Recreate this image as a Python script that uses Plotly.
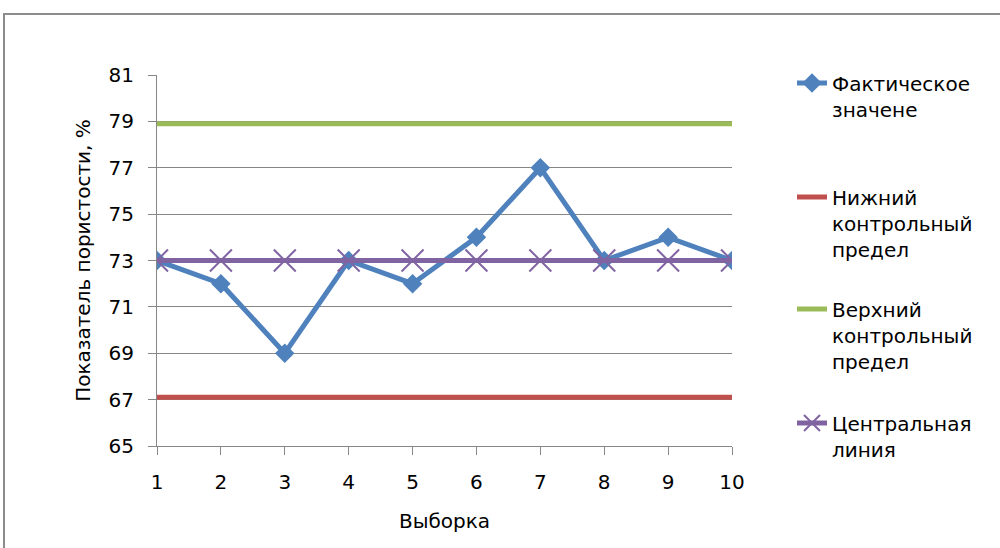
import plotly.graph_objects as go

samples = [1, 2, 3, 4, 5, 6, 7, 8, 9, 10]
actual = [73, 72, 69, 73, 72, 74, 77, 73, 74, 73]
lcl_value = 67.1
ucl_value = 78.9
cl_value = 73
lcl = [lcl_value] * len(samples)
ucl = [ucl_value] * len(samples)
cl = [cl_value] * len(samples)

names = ["Фактическое<br>значене", "Нижний<br>контрольный<br>предел",
         "Верхний<br>контрольный<br>предел", "Центральная<br>линия"]
y_ticks = [65, 67, 69, 71, 73, 75, 77, 79, 81]

BLUE = "#4F81BD"
RED = "#C0504D"
GREEN = "#9BBB59"
PURPLE = "#8064A2"
GRID = "#868686"
FONT = "DejaVu Sans"

W, H = 1000, 548
L, R, T, B = 157, 268, 75, 102
PW = W - L - R
PH = H - T - B


def px_x(p):
    return (p - L) / PW


def px_y(p):
    return (H - B - p) / PH


fig = go.Figure()
fig.add_trace(go.Scatter(x=samples, y=actual, name=names[0], mode="lines+markers",
                         line=dict(color=BLUE, width=5),
                         marker=dict(symbol="diamond", size=15, color=BLUE),
                         legend="legend"))
fig.add_trace(go.Scatter(x=samples, y=lcl, name=names[1], mode="lines",
                         line=dict(color=RED, width=5), legend="legend2"))
fig.add_trace(go.Scatter(x=samples, y=ucl, name=names[2], mode="lines",
                         line=dict(color=GREEN, width=5), legend="legend3"))
fig.add_trace(go.Scatter(x=samples, y=cl, name=names[3], mode="lines+markers",
                         line=dict(color=PURPLE, width=5),
                         marker=dict(symbol="x-thin", size=22,
                                     line=dict(color=PURPLE, width=2), color=PURPLE),
                         legend="legend4"))

legend_common = dict(xanchor="left", yanchor="middle", valign="top",
                     font=dict(family=FONT, size=20, color="black"),
                     bgcolor="rgba(0,0,0,0)", borderwidth=0)
# pixel row of the first text line of each legend entry, and its line count
legend_rows = [83, 197, 309, 423]
legend_lines = [n.count("<br>") + 1 for n in names]
lx = px_x(792)
leg = [dict(x=lx, y=px_y(r + 13 * (n - 1)), **legend_common)
       for r, n in zip(legend_rows, legend_lines)]

fig.update_layout(
    width=W, height=H,
    margin=dict(l=L, r=R, t=T, b=B),
    paper_bgcolor="white", plot_bgcolor="white",
    font=dict(family=FONT, size=20, color="black"),
    showlegend=True,
    legend=leg[0], legend2=leg[1], legend3=leg[2], legend4=leg[3],
    xaxis=dict(range=[1, 10], tickmode="array", tickvals=samples,
               ticktext=[str(s) for s in samples],
               showgrid=False, zeroline=False,
               showline=True, linecolor=GRID, linewidth=1,
               ticks="outside", ticklen=8, tickcolor=GRID, tickwidth=1,
               ticklabelstandoff=10,
               tickfont=dict(family=FONT, size=20, color="black"),
               title=dict(text="Выборка", font=dict(family=FONT, size=20, color="black"),
                          standoff=20)),
    yaxis=dict(range=[65, 81], tickmode="array", tickvals=y_ticks,
               ticktext=[str(v) for v in y_ticks],
               showgrid=True, gridcolor=GRID, gridwidth=1, zeroline=False,
               showline=True, linecolor=GRID, linewidth=1,
               ticks="outside", ticklen=8, tickcolor=GRID, tickwidth=1,
               ticklabelstandoff=10,
               tickfont=dict(family=FONT, size=20, color="black"),
               title=dict(text="Показатель пористости, %",
                          font=dict(family=FONT, size=20, color="black"),
                          standoff=12)),
    shapes=[dict(type="rect", xref="paper", yref="paper",
                 x0=px_x(4), x1=px_x(1010), y0=px_y(14), y1=px_y(560),
                 line=dict(color="#8C8C8C", width=2), fillcolor="rgba(0,0,0,0)",
                 layer="below")],
)

fig.write_html("out.html",
               config={"displayModeBar": False},
               post_script="document.body.style.margin='0';"
                           "document.body.style.overflow='hidden';")
